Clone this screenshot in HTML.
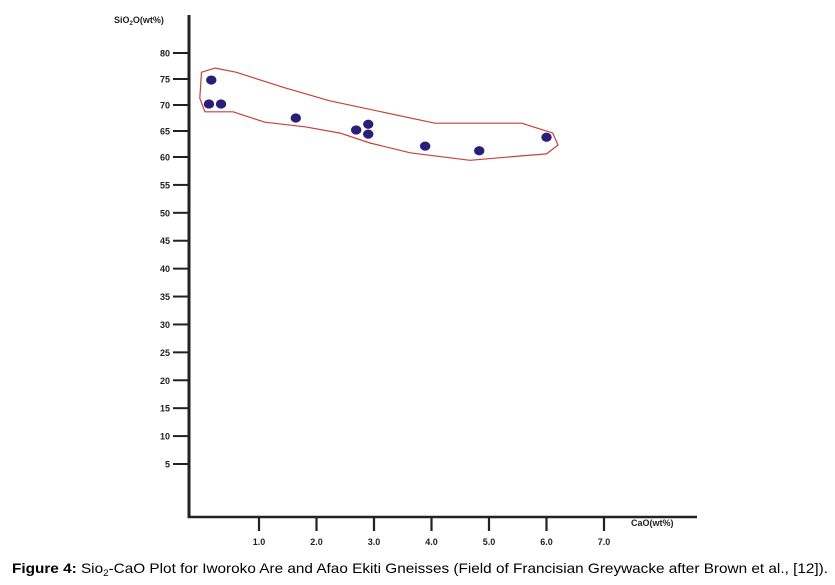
<!DOCTYPE html>
<html><head><meta charset="utf-8"><style>
html,body{margin:0;padding:0;background:#fff;width:835px;height:585px;overflow:hidden}
svg{display:block;font-family:"Liberation Sans",sans-serif}
</style></head><body>
<svg id="chart" width="835" height="585" viewBox="0 0 835 585" xmlns="http://www.w3.org/2000/svg">
<g id="axes"></g>
<g id="field"></g>
<g id="points"></g>
<text x="114" y="23" font-size="9" font-weight="bold" fill="#222">SiO<tspan font-size="6" dy="2">2</tspan><tspan dy="-2">O(wt%)</tspan></text>
<text x="631" y="526" font-size="9" font-weight="bold" fill="#222">CaO(wt%)</text>
<text x="12" y="573" font-size="14" fill="#000" textLength="816" lengthAdjust="spacingAndGlyphs"><tspan font-weight="bold">Figure 4:</tspan> Sio<tspan font-size="9" dy="3">2</tspan><tspan dy="-3">-CaO Plot for Iworoko Are and Afao Ekiti Gneisses (Field of Francisian Greywacke after Brown et al., [12]).</tspan></text>
</svg>
<script>
const yTicks = [80,75,70,65,60,55,50,45,40,35,30,25,20,15,10,5];
const xTicks = [1,2,3,4,5,6,7];
const xTickLabels = ["1.0","2.0","3.0","4.0","5.0","6.0","7.0"];
const caoValues = [0.17,0.13,0.34,1.64,2.69,2.90,2.90,3.89,4.83,6.00];
const sio2Values = [74.8,70.2,70.2,67.5,65.2,66.3,64.4,62.1,61.2,63.8];
const fieldCao = [0.0,0.24,0.6,1.45,2.23,4.06,5.57,6.11,6.2,6.0,5.54,4.67,3.63,2.93,2.41,1.8,1.1,0.55,0.06,-0.03];
const fieldSio2 = [76.3,77.1,76.3,73.3,70.8,66.5,66.5,64.6,62.3,60.6,60.2,59.4,60.8,62.7,64.6,65.8,66.7,68.7,68.7,71.3];

const NS = "http://www.w3.org/2000/svg";
function X(v){ return 201.5 + v*57.5; }
// piecewise axis calibration matching the printed scale
function Y(v){
  if (v >= 60) return 53 + (80 - v)*5.2;
  return 157 + (60 - v)*(464-157)/55;
}
function mk(tag, attrs, parent){
  const e = document.createElementNS(NS, tag);
  for (const k in attrs) e.setAttribute(k, attrs[k]);
  parent.appendChild(e);
  return e;
}
const axes = document.getElementById('axes');
let yAxis = mk('line',{x1:189,y1:15,x2:189,y2:518,stroke:'#222','stroke-width':3},axes);


let xAxis = mk('line',{x1:188,y1:517,x2:697,y2:517,stroke:'#222','stroke-width':2.5},axes);


yTicks.forEach(v=>{
  const y = Y(v);
  const t = mk('line',{x1:173,y1:y,x2:189,y2:y,stroke:'#222','stroke-width':2},axes);
  
  
  const l = mk('text',{x:170,y:y+3.5,'text-anchor':'end','font-size':9,'font-weight':'bold',fill:'#222'},axes);
  l.textContent = v;
  
  
});
xTicks.forEach((v,i)=>{
  const x = X(v);
  const t = mk('line',{x1:x,y1:517,x2:x,y2:531,stroke:'#222','stroke-width':2.2},axes);
  
  
  const l = mk('text',{x:x,y:545,'text-anchor':'middle','font-size':9,'font-weight':'bold',fill:'#222'},axes);
  l.textContent = xTickLabels[i];
  
  
});
const field = document.getElementById('field');
const pts = fieldCao.map((c,i)=>X(c).toFixed(1)+','+Y(fieldSio2[i]).toFixed(1)).join(' ');
const poly = mk('polygon',{points:pts,fill:'none',stroke:'#c8403a','stroke-width':1.2,'stroke-linejoin':'round'},field);


const pg = document.getElementById('points');
caoValues.forEach((c,i)=>{
  const p = mk('ellipse',{cx:X(c),cy:Y(sio2Values[i]),rx:5.2,ry:4.6,fill:'#2a1f78'},pg);
  
  
});
</script>
</body></html>
